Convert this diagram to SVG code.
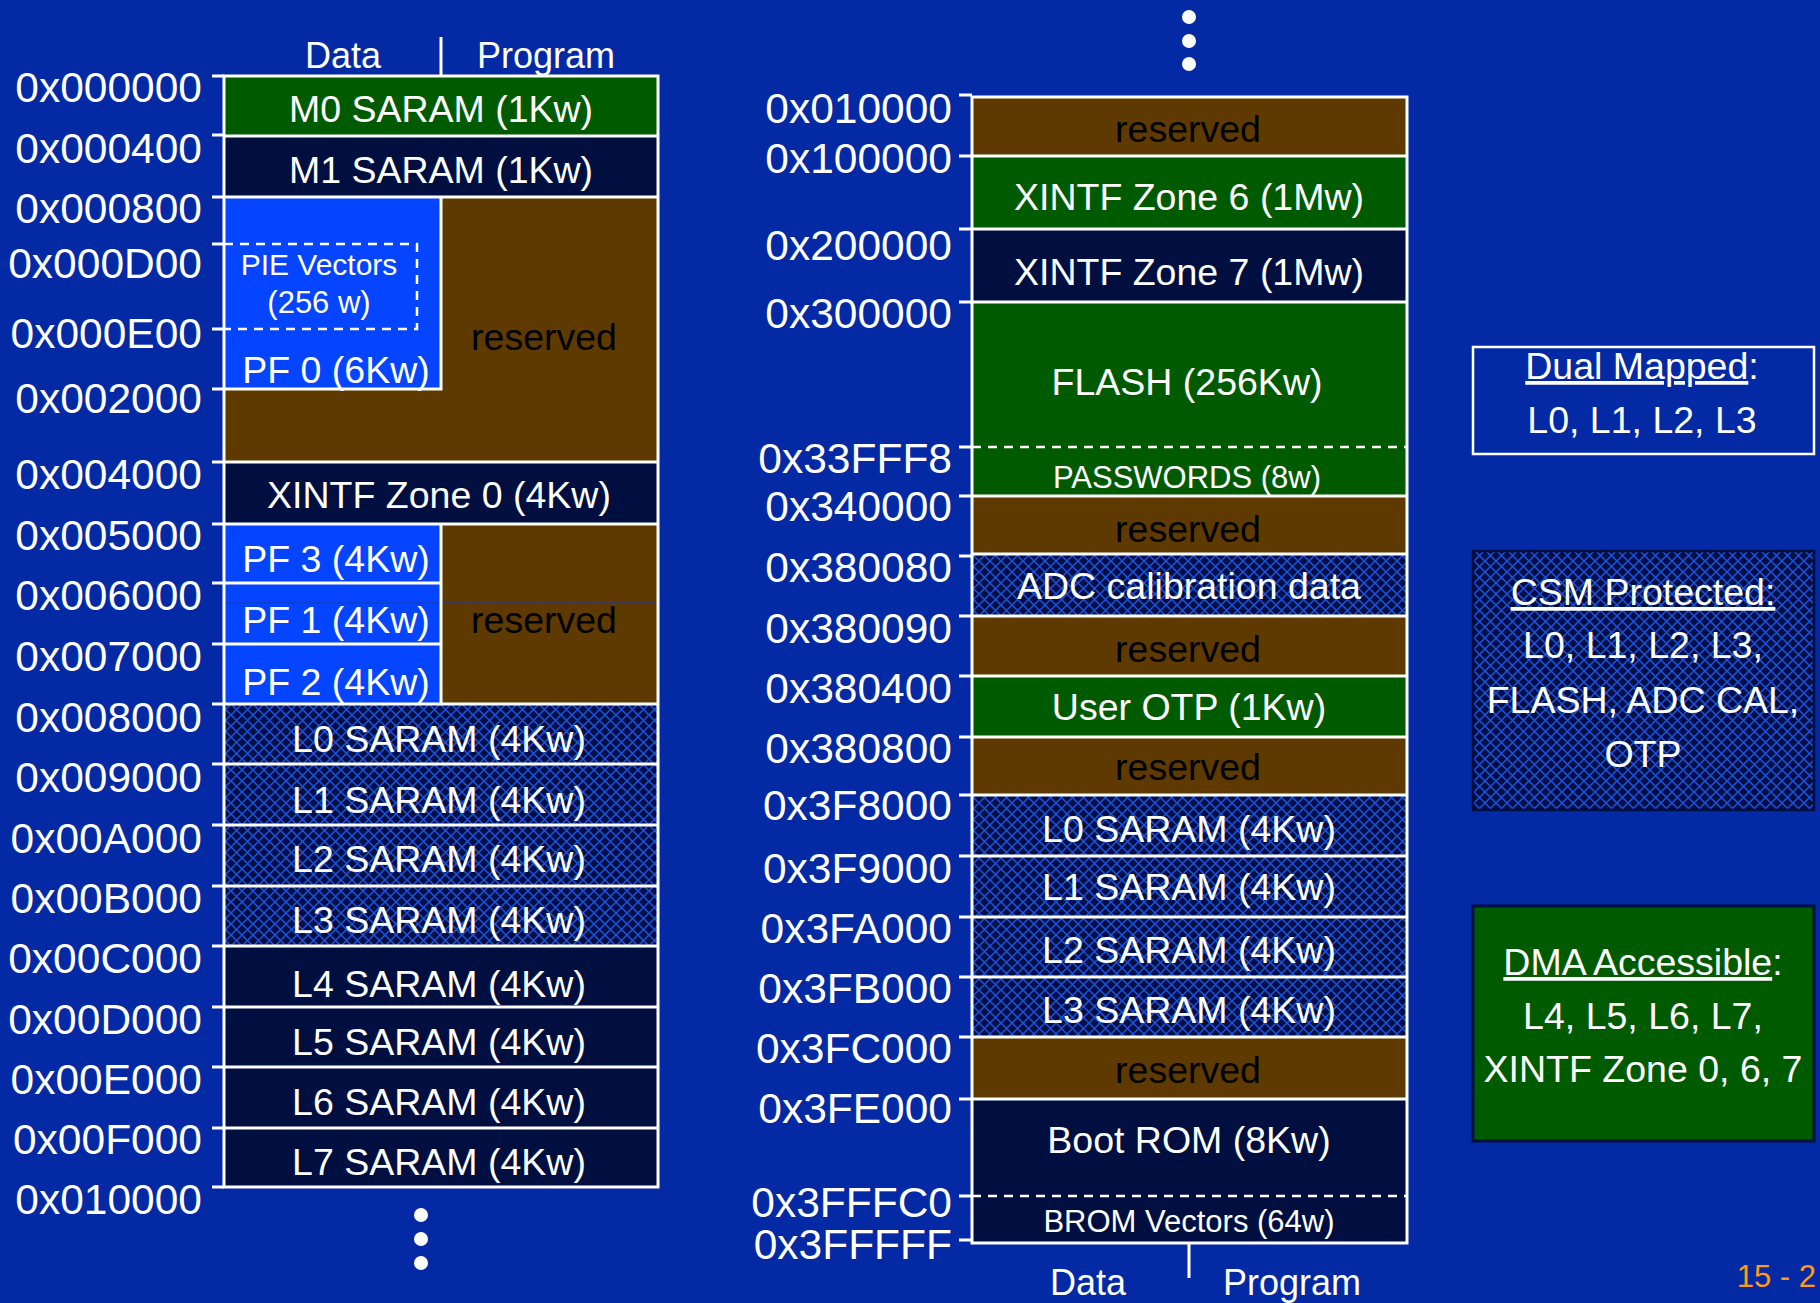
<svg xmlns="http://www.w3.org/2000/svg" width="1820" height="1303" viewBox="0 0 1820 1303">
<defs>
<pattern id="hatch" patternUnits="userSpaceOnUse" width="11" height="11">
<rect width="11" height="11" fill="#000F45"/>
<path d="M0,0 L11,11 M11,0 L0,11" stroke="#1D52DC" stroke-width="1.5"/>
</pattern>
<style>
.t{font-family:"Liberation Sans",Arial,sans-serif;fill:#fff;text-anchor:middle;font-size:37.5px}
.s{font-size:31px}
.k{fill:#000}
.a{font-family:"Liberation Sans",Arial,sans-serif;fill:#fff;text-anchor:end;font-size:42.5px}
.g{fill:#005A00}
.n{fill:#000F40}
.b{fill:#5E3A00}
.p{fill:#0645FF}
.h{fill:url(#hatch)}
.bd{stroke:#fff;stroke-width:3;fill:none}
.tk{stroke:#fff;stroke-width:3}
.ds{stroke:#fff;stroke-width:2.5;stroke-dasharray:9 7;fill:none}
.u{text-decoration:underline}
</style>
</defs>
<rect width="1820" height="1303" fill="#0429A4"/>

<!-- LEFT MEMORY MAP -->
<g id="left-map">
<g id="M0"><rect class="g" x="224" y="76" width="434" height="60"/><text class="t" x="441" y="122">M0 SARAM (1Kw)</text></g>
<g id="M1"><rect class="n" x="224" y="136" width="434" height="61"/><text class="t" x="441" y="183">M1 SARAM (1Kw)</text></g>
<g id="reserved-L1"><path class="b" d="M441,197 H658 V462 H224 V389 H441 Z"/><text class="t k" x="544" y="350">reserved</text></g>
<g id="PF0"><rect class="p" x="224" y="197" width="217" height="192"/>
<path class="ds" d="M224,244 H417 V329 H224"/>
<text class="t" x="319" y="275" style="font-size:30px">PIE Vectors</text>
<text class="t" x="319" y="313" style="font-size:31px">(256 w)</text>
<text class="t" x="336" y="383">PF 0 (6Kw)</text>
<path class="bd" d="M224,389 H441 V197"/></g>
<g id="XINTF0"><rect class="n" x="224" y="462" width="434" height="62"/><text class="t" x="439" y="508">XINTF Zone 0 (4Kw)</text></g>
<g id="reserved-L2"><rect class="b" x="441" y="524" width="217" height="180"/><text class="t k" x="544" y="633">reserved</text></g>
<g id="PF3"><rect class="p" x="224" y="524" width="217" height="59"/><text class="t" x="336" y="572">PF 3 (4Kw)</text></g>
<g id="PF1"><rect class="p" x="224" y="583" width="217" height="61"/><text class="t" x="336" y="633">PF 1 (4Kw)</text></g>
<g id="PF2"><rect class="p" x="224" y="644" width="217" height="60"/><text class="t" x="336" y="695">PF 2 (4Kw)</text></g>
<line x1="224" y1="603" x2="658" y2="603" stroke="#1838B8" stroke-width="1"/>
<path class="bd" d="M224,583 H441 M224,644 H441 M441,524 V704"/>
<g id="L0a"><rect class="h" x="224" y="704" width="434" height="60"/><text class="t" x="439" y="752">L0 SARAM (4Kw)</text></g>
<g id="L1a"><rect class="h" x="224" y="764" width="434" height="61"/><text class="t" x="439" y="813">L1 SARAM (4Kw)</text></g>
<g id="L2a"><rect class="h" x="224" y="825" width="434" height="61"/><text class="t" x="439" y="872">L2 SARAM (4Kw)</text></g>
<g id="L3a"><rect class="h" x="224" y="886" width="434" height="60"/><text class="t" x="439" y="933">L3 SARAM (4Kw)</text></g>
<g id="L4"><rect class="n" x="224" y="946" width="434" height="61"/><text class="t" x="439" y="997">L4 SARAM (4Kw)</text></g>
<g id="L5"><rect class="n" x="224" y="1007" width="434" height="60"/><text class="t" x="439" y="1055">L5 SARAM (4Kw)</text></g>
<g id="L6"><rect class="n" x="224" y="1067" width="434" height="61"/><text class="t" x="439" y="1115">L6 SARAM (4Kw)</text></g>
<g id="L7"><rect class="n" x="224" y="1128" width="434" height="59"/><text class="t" x="439" y="1175">L7 SARAM (4Kw)</text></g>
<path class="bd" d="M224,136 H658 M224,197 H658 M224,462 H658 M224,524 H658 M224,704 H658 M224,764 H658 M224,825 H658 M224,886 H658 M224,946 H658 M224,1007 H658 M224,1067 H658 M224,1128 H658"/>
<rect class="bd" x="224" y="76" width="434" height="1111"/>
<path class="tk" d="M212,76 H224 M212,135 H224 M212,197 H224 M212,244 H224 M212,329 H224 M212,389 H224 M212,462 H224 M212,524 H224 M212,583 H224 M212,644 H224 M212,704 H224 M212,764 H224 M212,825 H224 M212,886 H224 M212,946 H224 M212,1007 H224 M212,1067 H224 M212,1128 H224 M212,1187 H224"/>
<g id="left-addr">
<text class="a" x="202" y="102">0x000000</text>
<text class="a" x="202" y="163">0x000400</text>
<text class="a" x="202" y="223">0x000800</text>
<text class="a" x="202" y="278">0x000D00</text>
<text class="a" x="202" y="348">0x000E00</text>
<text class="a" x="202" y="413">0x002000</text>
<text class="a" x="202" y="489">0x004000</text>
<text class="a" x="202" y="550">0x005000</text>
<text class="a" x="202" y="610">0x006000</text>
<text class="a" x="202" y="671">0x007000</text>
<text class="a" x="202" y="732">0x008000</text>
<text class="a" x="202" y="792">0x009000</text>
<text class="a" x="202" y="853">0x00A000</text>
<text class="a" x="202" y="913">0x00B000</text>
<text class="a" x="202" y="973">0x00C000</text>
<text class="a" x="202" y="1034">0x00D000</text>
<text class="a" x="202" y="1094">0x00E000</text>
<text class="a" x="202" y="1154">0x00F000</text>
<text class="a" x="202" y="1214">0x010000</text>
</g>
<text class="t" x="343" y="68" style="font-size:36px">Data</text>
<text class="t" x="546" y="68" style="font-size:36px">Program</text>
<line class="tk" x1="441" y1="37" x2="441" y2="76"/>
<circle cx="421" cy="1215" r="7" fill="#fff"/>
<circle cx="421" cy="1239" r="7" fill="#fff"/>
<circle cx="421" cy="1263" r="7" fill="#fff"/>
</g>

<!-- RIGHT MEMORY MAP -->
<g id="right-map">
<circle cx="1189" cy="17" r="7" fill="#fff"/>
<circle cx="1189" cy="41" r="7" fill="#fff"/>
<circle cx="1189" cy="64" r="7" fill="#fff"/>
<g id="r-res1"><rect class="b" x="972" y="97" width="435" height="59"/><text class="t k" x="1188" y="142">reserved</text></g>
<g id="Z6"><rect class="g" x="972" y="156" width="435" height="73"/><text class="t" x="1189" y="210">XINTF Zone 6 (1Mw)</text></g>
<g id="Z7"><rect class="n" x="972" y="229" width="435" height="73"/><text class="t" x="1189" y="285">XINTF Zone 7 (1Mw)</text></g>
<g id="FLASH"><rect class="g" x="972" y="302" width="435" height="194"/><text class="t" x="1187" y="395">FLASH (256Kw)</text>
<line class="ds" x1="972" y1="447" x2="1407" y2="447"/>
<text class="t s" x="1187" y="488">PASSWORDS (8w)</text></g>
<g id="r-res2"><rect class="b" x="972" y="496" width="435" height="58"/><text class="t k" x="1188" y="542">reserved</text></g>
<g id="ADC"><rect class="h" x="972" y="554" width="435" height="62"/><text class="t" x="1189" y="599">ADC calibration data</text></g>
<g id="r-res3"><rect class="b" x="972" y="616" width="435" height="60"/><text class="t k" x="1188" y="662">reserved</text></g>
<g id="OTP"><rect class="g" x="972" y="676" width="435" height="61"/><text class="t" x="1189" y="720">User OTP (1Kw)</text></g>
<g id="r-res4"><rect class="b" x="972" y="737" width="435" height="58"/><text class="t k" x="1188" y="780">reserved</text></g>
<g id="L0b"><rect class="h" x="972" y="795" width="435" height="61"/><text class="t" x="1189" y="842">L0 SARAM (4Kw)</text></g>
<g id="L1b"><rect class="h" x="972" y="856" width="435" height="61"/><text class="t" x="1189" y="900">L1 SARAM (4Kw)</text></g>
<g id="L2b"><rect class="h" x="972" y="917" width="435" height="60"/><text class="t" x="1189" y="963">L2 SARAM (4Kw)</text></g>
<g id="L3b"><rect class="h" x="972" y="977" width="435" height="60"/><text class="t" x="1189" y="1023">L3 SARAM (4Kw)</text></g>
<g id="r-res5"><rect class="b" x="972" y="1037" width="435" height="62"/><text class="t k" x="1188" y="1083">reserved</text></g>
<g id="BOOT"><rect class="n" x="972" y="1099" width="435" height="144"/><text class="t" x="1189" y="1153">Boot ROM (8Kw)</text>
<line class="ds" x1="972" y1="1196" x2="1407" y2="1196"/>
<text class="t s" x="1189" y="1232">BROM Vectors (64w)</text></g>
<path class="bd" d="M972,156 H1407 M972,229 H1407 M972,302 H1407 M972,496 H1407 M972,554 H1407 M972,616 H1407 M972,676 H1407 M972,737 H1407 M972,795 H1407 M972,856 H1407 M972,917 H1407 M972,977 H1407 M972,1037 H1407 M972,1099 H1407"/>
<rect class="bd" x="972" y="97" width="435" height="1146"/>
<path class="tk" d="M959,95 H972 M959,156 H972 M959,229 H972 M959,302 H972 M959,447 H972 M959,496 H972 M959,556 H972 M959,616 H972 M959,676 H972 M959,737 H972 M959,795 H972 M959,856 H972 M959,917 H972 M959,977 H972 M959,1037 H972 M959,1099 H972 M959,1196 H972 M959,1240 H972"/>
<g id="right-addr">
<text class="a" x="952" y="123">0x010000</text>
<text class="a" x="952" y="173">0x100000</text>
<text class="a" x="952" y="260">0x200000</text>
<text class="a" x="952" y="328">0x300000</text>
<text class="a" x="952" y="473">0x33FFF8</text>
<text class="a" x="952" y="521">0x340000</text>
<text class="a" x="952" y="582">0x380080</text>
<text class="a" x="952" y="643">0x380090</text>
<text class="a" x="952" y="703">0x380400</text>
<text class="a" x="952" y="763">0x380800</text>
<text class="a" x="952" y="820">0x3F8000</text>
<text class="a" x="952" y="883">0x3F9000</text>
<text class="a" x="952" y="943">0x3FA000</text>
<text class="a" x="952" y="1003">0x3FB000</text>
<text class="a" x="952" y="1063">0x3FC000</text>
<text class="a" x="952" y="1123">0x3FE000</text>
<text class="a" x="952" y="1217">0x3FFFC0</text>
<text class="a" x="952" y="1259">0x3FFFFF</text>
</g>
<line class="tk" x1="1189" y1="1243" x2="1189" y2="1278"/>
<text class="t" x="1088" y="1295" style="font-size:36px">Data</text>
<text class="t" x="1292" y="1295" style="font-size:36px">Program</text>
</g>

<!-- LEGEND -->
<g id="dual-mapped">
<rect x="1473" y="347" width="341" height="107" fill="none" stroke="#fff" stroke-width="2.5"/>
<text class="t" x="1642" y="379"><tspan class="u">Dual Mapped</tspan>:</text>
<text class="t" x="1642" y="433">L0, L1, L2, L3</text>
</g>
<g id="csm">
<rect x="1473" y="551" width="341" height="259" fill="url(#hatch)" stroke="#000F40" stroke-width="2.5"/>
<text class="t" x="1643" y="605"><tspan class="u">CSM Protected:</tspan></text>
<text class="t" x="1643" y="658">L0, L1, L2, L3,</text>
<text class="t" x="1643" y="713">FLASH, ADC CAL,</text>
<text class="t" x="1643" y="767">OTP</text>
</g>
<g id="dma">
<rect x="1473" y="906" width="341" height="235" fill="#005A00" stroke="#001040" stroke-width="3"/>
<text class="t" x="1643" y="975"><tspan class="u">DMA Accessible</tspan>:</text>
<text class="t" x="1643" y="1029">L4, L5, L6, L7,</text>
<text class="t" x="1643" y="1082">XINTF Zone 0, 6, 7</text>
</g>
<text x="1816" y="1287" style="font-family:'Liberation Sans',Arial,sans-serif;font-size:31px;fill:#FF9A14;text-anchor:end">15 - 2</text>
</svg>
